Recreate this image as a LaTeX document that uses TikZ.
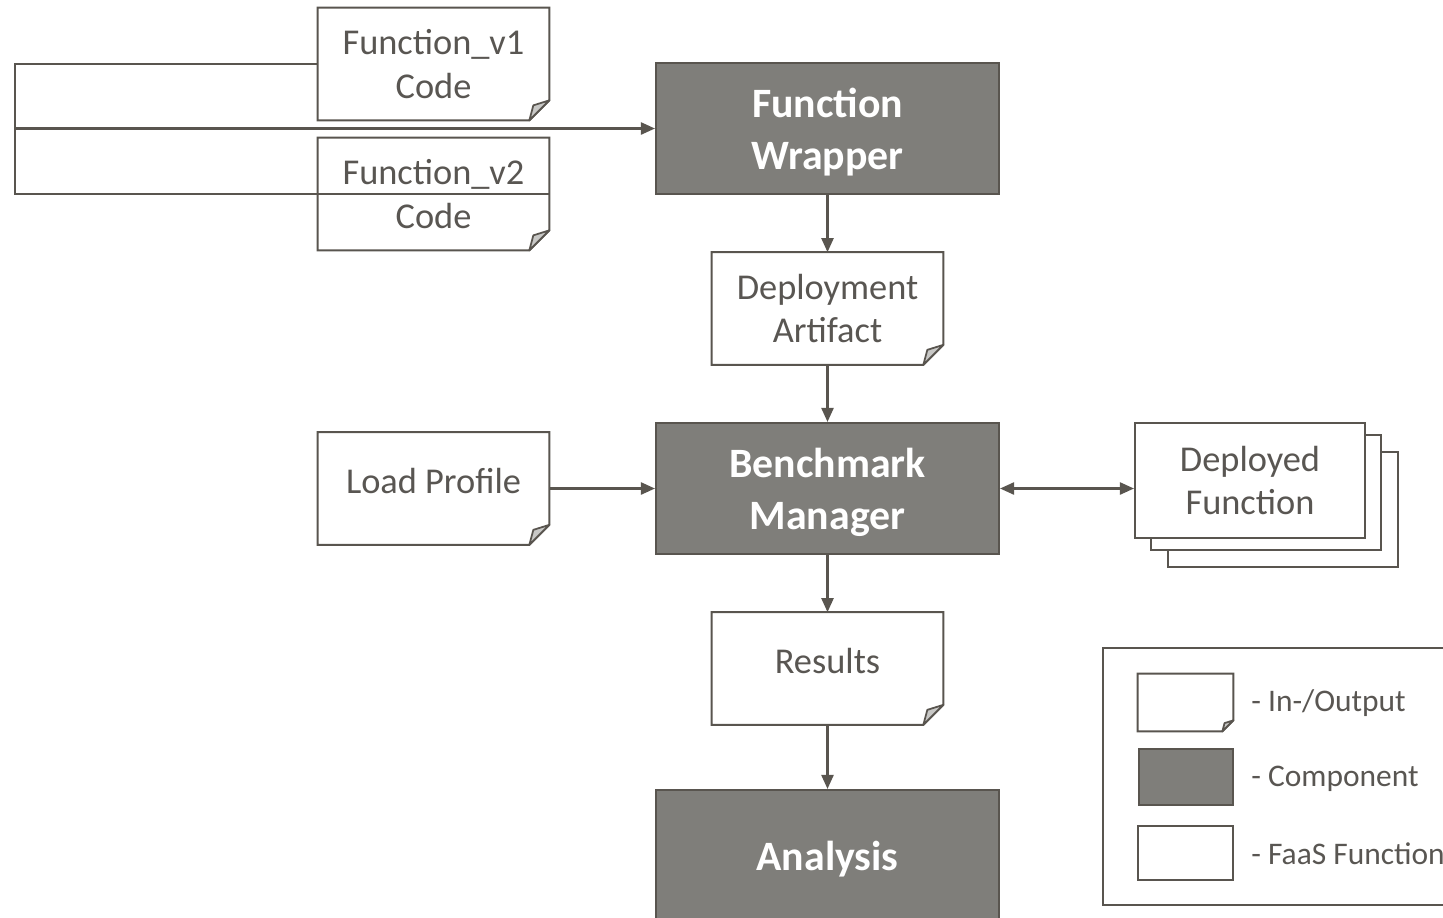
\documentclass[tikz,border=0pt]{standalone}
\usepackage{fontspec}
\setmainfont{Carlito}
\usetikzlibrary{calc}
\usetikzlibrary{arrows.meta}

\definecolor{edgegray}{RGB}{89,85,79}
\definecolor{compgray}{RGB}{127,126,122}
\definecolor{foldgray}{RGB}{200,200,198}
\definecolor{textgray}{RGB}{89,86,82}

\tikzset{
  component/.style={draw=edgegray, fill=compgray, line width=1.2pt, minimum width=6.86cm, minimum height=2.62cm, inner sep=0pt, text depth=0pt, align=center, text=white, font=\fontsize{23.8}{29.8}\selectfont\bfseries},
  iodoc/.style={minimum width=4.62cm, minimum height=2.24cm, inner sep=0pt, align=center, text=textgray, font=\fontsize{20.7}{25}\selectfont},
  faas/.style={draw=edgegray, fill=white, line width=1.2pt, minimum width=4.6cm, minimum height=2.3cm, inner sep=0pt, align=center, text=textgray, font=\fontsize{20.7}{25}\selectfont},
  conn/.style={draw=edgegray, line width=1.3pt},
  flow/.style={conn, -{Triangle[length=0.28cm, width=0.24cm]}},
  legtext/.style={anchor=west, inner sep=0pt, text=textgray, font=\fontsize{17.9}{21}\selectfont},
}

\begin{document}
\begin{tikzpicture}[x=0.02cm, y=-0.02cm]
\useasboundingbox (0,0) rectangle (1443,917);
\clip (0,0) rectangle (1443,917);

% components
\node[component] (wrapper) at (827.5,128.5) {Function\\Wrapper};
\node[component] (bench) at (827.5,488.5) {Benchmark\\Manager};
\node[component] (analysis) at (827.5,855.5) {Analysis};

% in-/outputs
\node[iodoc] (v1) at (433.5,64) {Function\_v1\\Code};
\node[iodoc] (v2) at (433.5,194) {Function\_v2\\Code};
\node[iodoc] (artifact) at (827.5,308.5) {Deployment\\Artifact};
\node[iodoc, text depth=0.32cm] (load) at (433.5,488.5) {Load Profile};
\node[iodoc, text depth=0.32cm] (results) at (827.5,668.5) {Results};

% deployed functions
\node[faas] (dep3) at (1283,509.5) {};
\node[faas] (dep2) at (1266,492.5) {};
\node[faas] (dep) at (1250,480.5) {Deployed\\Function};

% legend
\draw[edgegray, line width=0.9pt] (1103,648) rectangle (1500,905);
\node[iodoc, minimum width=1.9cm, minimum height=1.14cm] (legio) at (1185.5,702.5) {};
\node[component, minimum width=1.88cm, minimum height=1.12cm] (legcomp) at (1186,777) {};
\node[faas, minimum width=1.9cm, minimum height=1.08cm] (legfaas) at (1185.5,853) {};
\node[legtext] (ltio) at (1251,703) {- In-/Output};
\node[legtext] (ltcomp) at (1251,779) {- Component};
\node[legtext] (ltfaas) at (1251,854) {- FaaS Function};

% folded corners
\foreach \n/\f in {v1/20, v2/20, artifact/20, load/20, results/20, legio/11} {
  \draw[edgegray, line width=1.2pt] (\n.north west) -- (\n.north east) -- ($(\n.south east)+(0,-\f)$) -- ($(\n.south east)+(-\f,0)$) -- (\n.south west) -- cycle;
  \filldraw[draw=edgegray, fill=foldgray, line width=1pt, line join=round] ($(\n.south east)+(0,-\f)$) -- ($(\n.south east)+(-0.8*\f,-0.75*\f)$) -- ($(\n.south east)+(-\f,0)$) -- cycle;
}

% connectors
\coordinate (trunk) at (15,128.5);
\draw[conn] (v1.west) -| (trunk);
\draw[conn] (v2.east) -| (trunk);
\draw[flow] (trunk) -- (wrapper.west);
\draw[flow] (wrapper.south) -- (artifact.north);
\draw[flow] (artifact.south) -- (bench.north);
\draw[flow] (load.east) -- (bench.west);
\draw[conn, {Triangle[length=0.28cm, width=0.24cm]}-{Triangle[length=0.28cm, width=0.24cm]}] (bench.east) -- (bench.east -| dep.west);
\draw[flow] (bench.south) -- (results.north);
\draw[flow] (results.south) -- (analysis.north);
\end{tikzpicture}
\end{document}
